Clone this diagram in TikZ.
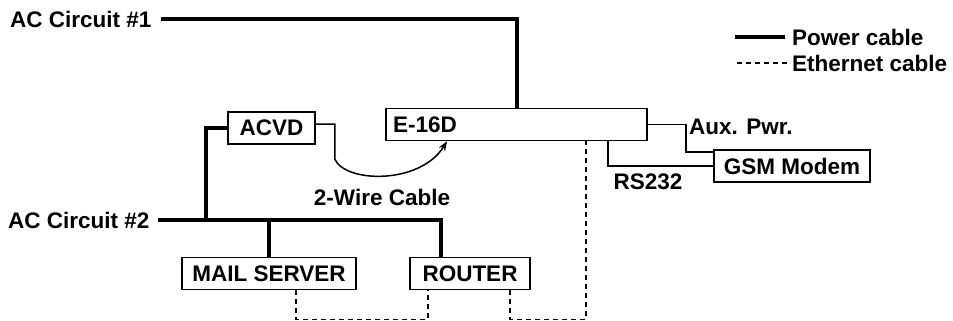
\documentclass[tikz,border=0pt]{standalone}
\usepackage{fontspec}
\setmainfont{Liberation Sans}
\usetikzlibrary{arrows.meta,positioning,calc}

\begin{document}
\begin{tikzpicture}[x=1pt,y=-1pt,>=Stealth,font=\fontsize{22.5}{27}\selectfont\bfseries]
\tikzset{unitbox/.style={draw,line width=1.5pt,minimum height=32pt,inner sep=0pt}, power/.style={line width=4pt}, ether/.style={line width=1.5pt,dash pattern=on 5pt off 4pt}, wire/.style={line width=1.5pt}, lbl/.style={inner sep=0pt}}
\useasboundingbox (0,0) rectangle (953,321);
% boxes
\node[unitbox,minimum width=261pt,inner xsep=7pt,text width=247pt,align=left] (e16d) at (516.5,124.5) {E-16D};
\node[unitbox,minimum width=87pt] (acvd) at (271.5,128) {ACVD};
\node[unitbox,minimum width=156pt] (gsm) at (792,166) {GSM Modem};
\node[unitbox,minimum width=174pt] (mail) at (269,273.5) {MAIL SERVER};
\node[unitbox,minimum width=120pt] (router) at (470,273.5) {ROUTER};
% labels
\node[lbl,anchor=west] (ac1) at (10,19) {AC Circuit \#1};
\node[lbl,anchor=west] (ac2) at (8,220) {AC Circuit \#2};
\node[lbl,anchor=west] (aux) at (689,127) {Aux. Pwr.};
\node[lbl] (rs) at (648,182) {RS232};
\node[lbl] (twowire) at (382,197) {2-Wire Cable};
\node[lbl,anchor=west] (legpow) at (792,37) {Power cable};
\node[lbl,anchor=west] (legeth) at (792,63) {Ethernet cable};
\coordinate (tap) at (206,220);
% power
\draw[power] ([xshift=9pt]ac1.east) -| (e16d.north);
\draw[power] ([xshift=8pt]ac2.east) -| ([xshift=-29pt]router.north);
\draw[power] (mail.north) -- (mail.north |- tap);
\draw[power] (acvd.west) -| (tap);
% signal
\draw[wire] (e16d.east) -- ++(38,0) |- ([yshift=14pt]gsm.west);
\draw[wire] ([xshift=91.5pt]e16d.south) |- (gsm.west);
\draw[wire,->] ([yshift=4pt]acvd.east) -- ++(19,0) -- ++(0,35) .. controls (345,183) and (420,185) .. ([xshift=-69.5pt]e16d.south);
% ethernet
\draw[ether] ([xshift=27pt]mail.south) -- ++(0,29) -| ([xshift=-42pt]router.south);
\draw[ether] ([xshift=40pt]router.south) -- ++(0,29) -| ([xshift=69.5pt]e16d.south);
% legend
\draw[power] ([xshift=-7pt]legpow.west) -- ++(-50,0);
\draw[ether] ([xshift=-5pt]legeth.west) -- ++(-50,0);
\end{tikzpicture}
\end{document}
